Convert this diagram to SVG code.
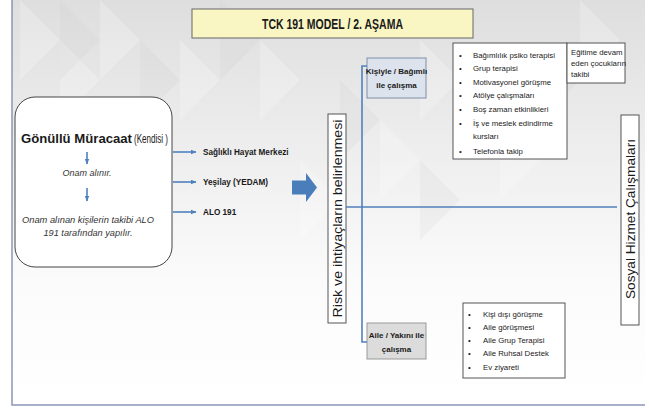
<svg xmlns="http://www.w3.org/2000/svg" width="649" height="408" viewBox="0 0 649 408">
<style>
text{font-family:"Liberation Sans",Arial,sans-serif;fill:#1a1a1a}
.b{font-weight:bold}
.it{font-style:italic;fill:#333}
.lst{font-size:7.8px;fill:#3a3a3a}
.conn{stroke:#4f81bd;stroke-width:1.6;fill:none}
.box{fill:#fff;stroke:#555;stroke-width:1}
</style>
<defs>
<linearGradient id="bg" x1="0" y1="0" x2="0" y2="1">
<stop offset="0" stop-color="#dedede"/>
<stop offset="0.35" stop-color="#ededed"/>
<stop offset="0.7" stop-color="#fbfbfb"/>
<stop offset="1" stop-color="#ffffff"/>
</linearGradient>
<marker id="ah" markerWidth="6" markerHeight="6" refX="5" refY="3" orient="auto" markerUnits="userSpaceOnUse">
<path d="M0,0.8 L5.5,3 L0,5.2 Z" fill="#4f81bd"/>
</marker>
</defs>
<rect x="0" y="0" width="649" height="408" fill="#fff"/>
<rect x="12" y="0" width="633" height="405" fill="url(#bg)"/>
<g fill="#fff" opacity="0.22">
<polygon points="20,0 60,40 20,80"/>
<polygon points="100,0 140,40 100,80"/>
<polygon points="60,40 100,80 60,120"/>
<polygon points="180,40 220,80 180,120"/>
<polygon points="260,40 300,80 260,120"/>
<polygon points="420,40 460,80 420,120"/>
<polygon points="380,120 420,160 380,200"/>
<polygon points="500,120 540,160 500,200"/>
<polygon points="580,0 620,40 580,80"/>
<polygon points="300,160 340,200 300,240"/>
</g>
<g fill="#c8c8c8" opacity="0.14">
<polygon points="60,0 100,40 60,80"/>
<polygon points="140,40 180,80 140,120"/>
<polygon points="220,0 260,40 220,80"/>
<polygon points="340,80 380,120 340,160"/>
<polygon points="460,80 500,120 460,160"/>
<polygon points="540,40 580,80 540,120"/>
<polygon points="420,160 460,200 420,240"/>
</g>
<path d="M12,0 V405 H645" fill="none" stroke="#8d95b8" stroke-width="1.5"/>

<g id="title">
<rect x="192" y="9" width="281" height="29" fill="#faf6c4" stroke="#666" stroke-width="1"/>
<text x="332.5" y="29" class="b" font-size="14" text-anchor="middle" textLength="141" lengthAdjust="spacingAndGlyphs">TCK 191 MODEL / 2. AŞAMA</text>
</g>

<g id="gonullu">
<rect x="15" y="97" width="157" height="170" rx="20" ry="20" fill="#fff" stroke="#444" stroke-width="1"/>
<text x="21" y="143" class="b" font-size="13.5" textLength="111" lengthAdjust="spacingAndGlyphs">Gönüllü Müracaat</text>
<text x="134" y="143" font-size="12" fill="#1a1a1a" textLength="34" lengthAdjust="spacingAndGlyphs">(Kendisi )</text>
<line x1="87" y1="152" x2="87" y2="164" class="conn" marker-end="url(#ah)"/>
<text x="87" y="176" class="it" font-size="9" text-anchor="middle">Onam alınır.</text>
<line x1="87" y1="188" x2="87" y2="201" class="conn" marker-end="url(#ah)"/>
<text x="88" y="223" class="it" font-size="9.2" text-anchor="middle" textLength="132" lengthAdjust="spacingAndGlyphs">Onam alınan kişilerin takibi ALO</text>
<text x="88" y="236" class="it" font-size="9.2" text-anchor="middle">191 tarafından yapılır.</text>
</g>

<g id="targets">
<text x="203" y="155" class="b" font-size="8.2">Sağlıklı Hayat Merkezi</text>
<text x="203" y="185" class="b" font-size="8.2">Yeşilay (YEDAM)</text>
<text x="203" y="215" class="b" font-size="8.2">ALO 191</text>
</g>

<g id="bigarrow">
<path d="M292,180.5 H306 V173 L317,187.5 L306,202 V194.5 H292 Z" fill="#4a7ebb"/>
</g>

<g id="risk">
<rect x="328" y="114" width="18" height="209" class="box"/>
<text transform="translate(341.5,218.5) rotate(-90)" font-size="12" text-anchor="middle" textLength="198" lengthAdjust="spacingAndGlyphs">Risk ve ihtiyaçların belirlenmesi</text>
</g>

<g id="kisiyle">
<rect x="367" y="58" width="59" height="40" fill="#dde3ec" stroke="#7f8ea8" stroke-width="1"/>
<text x="396.5" y="74" class="b" font-size="8" text-anchor="middle">Kişiyle / Bağımlı</text>
<text x="396.5" y="88" class="b" font-size="8" text-anchor="middle">ile çalışma</text>
</g>

<g id="aile">
<rect x="367" y="323" width="59" height="36" fill="#dcdcdc" stroke="#999" stroke-width="1"/>
<text x="396.5" y="338" class="b" font-size="8" text-anchor="middle">Aile / Yakını ile</text>
<text x="396.5" y="352" class="b" font-size="8" text-anchor="middle">çalışma</text>
</g>

<g id="list1">
<rect x="453" y="43" width="114" height="116" class="box"/>
<g class="lst">
<text x="459" y="58">•</text><text x="473" y="58">Bağımlılık psiko terapisi</text>
<text x="459" y="71">•</text><text x="473" y="71">Grup terapisi</text>
<text x="459" y="85">•</text><text x="473" y="85">Motivasyonel görüşme</text>
<text x="459" y="98">•</text><text x="473" y="98">Atölye çalışmaları</text>
<text x="459" y="112">•</text><text x="473" y="112">Boş zaman etkinlikleri</text>
<text x="459" y="126">•</text><text x="473" y="126">İş ve meslek edindirme</text>
<text x="473" y="139">kursları</text>
<text x="459" y="154">•</text><text x="473" y="154">Telefonla takip</text>
</g>
</g>

<g id="egitim">
<rect x="567" y="43" width="58" height="40" class="box"/>
<g class="lst">
<text x="571" y="55">Eğitime devam</text>
<text x="571" y="66">eden çocukların</text>
<text x="571" y="77">takibi</text>
</g>
</g>

<g id="list2">
<rect x="463" y="303" width="102" height="75" class="box"/>
<g class="lst">
<text x="468" y="317">•</text><text x="483" y="317">Kişi dışı görüşme</text>
<text x="468" y="330">•</text><text x="483" y="330">Aile görüşmesi</text>
<text x="468" y="343">•</text><text x="483" y="343">Aile Grup Terapisi</text>
<text x="468" y="356">•</text><text x="483" y="356">Aile Ruhsal Destek</text>
<text x="468" y="370">•</text><text x="483" y="370">Ev ziyareti</text>
</g>
</g>

<g id="sosyal">
<rect x="621" y="115" width="18" height="210" class="box"/>
<text transform="translate(634.5,219) rotate(-90)" font-size="12" text-anchor="middle" textLength="160" lengthAdjust="spacingAndGlyphs">Sosyal Hizmet Çalışmaları</text>
</g>

<g id="connectors">
<line x1="173" y1="152" x2="196" y2="152" class="conn" marker-end="url(#ah)"/>
<line x1="173" y1="182" x2="196" y2="182" class="conn" marker-end="url(#ah)"/>
<line x1="173" y1="212" x2="196" y2="212" class="conn" marker-end="url(#ah)"/>
<path d="M367,66 H362 V342 H367" class="conn"/>
<line x1="346" y1="207" x2="617" y2="207" class="conn"/>
</g>
</svg>
